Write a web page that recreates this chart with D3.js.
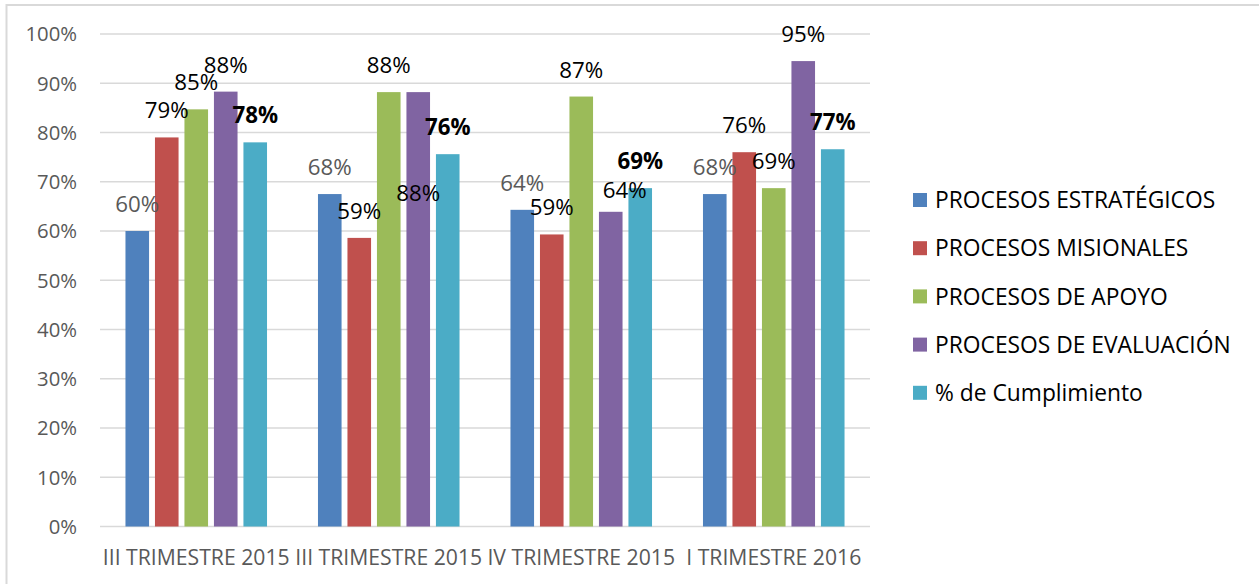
<!DOCTYPE html>
<html>
<head>
<meta charset="utf-8">
<script src="https://cdn.jsdelivr.net/npm/d3@7"></script>
<style>
  html, body { margin: 0; padding: 0; background: #fff; }
  svg { display: block; }
</style>
</head>
<body>
<svg id="chart" width="1259" height="584"></svg>
<script>
const categories = ["III TRIMESTRE 2015", "III TRIMESTRE 2015 ", "IV TRIMESTRE 2015", "I TRIMESTRE 2016"];
const seriesNames = ["PROCESOS ESTRATÉGICOS", "PROCESOS MISIONALES", "PROCESOS DE APOYO", "PROCESOS DE EVALUACIÓN", "% de Cumplimiento"];
const estrategicos = [0.60, 0.675, 0.643, 0.675];
const misionales   = [0.79, 0.586, 0.593, 0.76];
const apoyo        = [0.847, 0.882, 0.873, 0.687];
const evaluacion   = [0.883, 0.882, 0.639, 0.945];
const cumplimiento = [0.78, 0.756, 0.687, 0.766];
const yTicks = [0, 0.1, 0.2, 0.3, 0.4, 0.5, 0.6, 0.7, 0.8, 0.9, 1.0];
const colors = ["#4F81BD", "#C0504D", "#9BBB59", "#8064A2", "#4BACC6"];

const seriesValues = [estrategicos, misionales, apoyo, evaluacion, cumplimiento];
// manual label nudges (series index, category index) -> [dx, dy]
const labelNudge = { "3-1": [0, 128], "3-2": [14, 5] };

const svg = d3.select("#chart");
const font = "'Open Sans', 'Noto Sans', sans-serif";

// outer border
svg.append("rect").attr("x", 6.5).attr("y", 5).attr("width", 1300).attr("height", 700)
  .attr("fill", "none").attr("stroke", "#D9D9D9").attr("stroke-width", 2);

const plotLeft = 100, plotRight = 870, plotTop = 34, plotBottom = 526.5;

const y = d3.scaleLinear().domain([0, 1]).range([plotBottom, plotTop]);
const x0 = d3.scaleBand().domain(categories).range([plotLeft, plotRight]).paddingInner(0.234).paddingOuter(0.117);
const x1 = d3.scaleBand().domain(d3.range(seriesValues.length)).range([0, x0.bandwidth()]).paddingInner(0.2).paddingOuter(0.1);

// gridlines
svg.append("g").selectAll("line").data(yTicks).join("line")
  .attr("x1", plotLeft).attr("x2", plotRight)
  .attr("y1", d => y(d)).attr("y2", d => y(d))
  .attr("stroke", "#D9D9D9").attr("stroke-width", 1.5);

// y axis labels
const yAxis = d3.axisLeft(y).tickValues(yTicks).tickFormat(d3.format(".0%")).tickSize(0).tickPadding(0);
const yg = svg.append("g").attr("transform", "translate(77,0)").call(yAxis);
yg.select(".domain").remove();
yg.selectAll("text").attr("font-family", font).attr("font-size", 20.3).attr("fill", "#595959").attr("dy", "0.34em");

// bars
const groups = svg.append("g").selectAll("g").data(categories).join("g")
  .attr("transform", d => `translate(${x0(d)},0)`);

groups.each(function(cat, ci) {
  const g = d3.select(this);
  seriesValues.forEach((vals, si) => {
    g.append("rect")
      .attr("x", x1(si)).attr("width", x1.bandwidth())
      .attr("y", y(vals[ci])).attr("height", y(0) - y(vals[ci]))
      .attr("fill", colors[si]);
  });
});

// data labels
const fmt = d3.format(".0%");
groups.each(function(cat, ci) {
  const g = d3.select(this);
  seriesValues.forEach((vals, si) => {
    const n = labelNudge[si + "-" + ci] || [0, 0];
    g.append("text")
      .attr("x", x1(si) + x1.bandwidth() / 2 + n[0])
      .attr("y", y(vals[ci]) - 19 + n[1])
      .attr("text-anchor", "middle")
      .attr("font-family", font).attr("font-size", 22.3)
      .attr("font-weight", si === 4 ? "bold" : "normal")
      .attr("fill", si === 0 ? "#595959" : "#000")
      .text(fmt(vals[ci]));
  });
});

// x axis labels
const xAxis = d3.axisBottom(x0).tickSize(0).tickPadding(0);
const xg = svg.append("g").attr("transform", `translate(0,${plotBottom})`).call(xAxis);
xg.select(".domain").remove();
xg.selectAll("text").attr("font-family", font).attr("font-size", 21.2).attr("fill", "#595959")
  .attr("dy", 0).attr("y", 38.5);

// legend
const legend = svg.append("g").selectAll("g").data(seriesNames).join("g")
  .attr("transform", (d, i) => `translate(913,${200 + i * 48.2})`);
legend.append("rect").attr("x", 0).attr("y", -7).attr("width", 14).attr("height", 14)
  .attr("fill", (d, i) => colors[i]);
legend.append("text").attr("x", 22).attr("y", 0).attr("dy", "0.36em")
  .attr("font-family", font).attr("font-size", 22.8).attr("fill", "#000")
  .text(d => d);
</script>
</body>
</html>
